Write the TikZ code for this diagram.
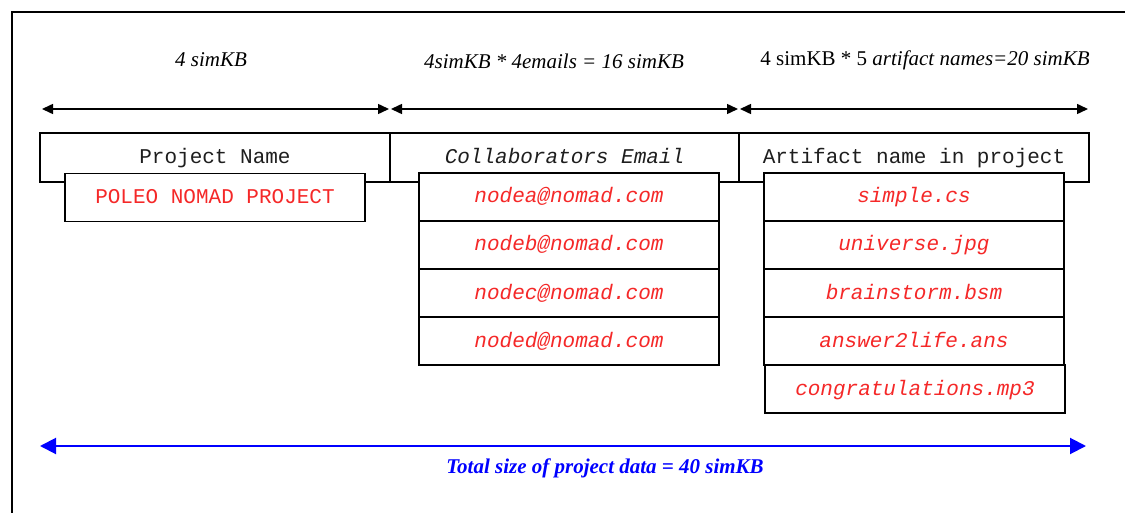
\documentclass[tikz,border=0pt]{standalone}
\usepackage{fontspec}
\setmainfont{Liberation Serif}
\setmonofont{Liberation Mono}
\usetikzlibrary{arrows.meta}
\definecolor{valred}{RGB}{245,40,40}
\definecolor{hdrgray}{RGB}{30,30,30}
\begin{document}
\begin{tikzpicture}[x=1pt,y=-1pt,
  txt/.style={font=\fontsize{21}{25}\selectfont, inner sep=0pt},
  cell/.style={draw, line width=1.8pt, fill=white, inner sep=0pt, outer sep=0pt,
    text height=15pt, text depth=3pt, minimum height=48pt,
    font=\ttfamily\fontsize{21}{25}\selectfont},
  header/.style={cell, minimum width=350pt, minimum height=49pt, text=hdrgray},
  value/.style={cell, minimum width=300pt, text=valred},
  dim/.style={line width=1.5pt, {Triangle[length=11pt,width=10pt]}-{Triangle[length=11pt,width=10pt]}},
  total/.style={line width=2pt, draw=blue, {Triangle[length=16pt,width=16pt]}-{Triangle[length=16pt,width=16pt]}}]
\useasboundingbox (0,0) rectangle (1125,513);

% frame
\draw[line width=1.8pt] (12,513) -- (12,12) -- (1125,12);

% size captions
\node[txt] (cap1) at (211,60) {\itshape 4 simKB};
\node[txt] (cap2) at (554,61) {\itshape 4simKB * 4emails = 16 simKB};
\node[txt] (cap3) at (925,60) {4 simKB * 5 \textit{artifact names=20 simKB}};

% dimension arrows
\coordinate (d1L) at (42,109);
\coordinate (d1R) at (389,109);
\coordinate (d2L) at (391,109);
\coordinate (d2R) at (738,109);
\coordinate (d3L) at (740,109);
\coordinate (d3R) at (1088,109);
\draw[dim] (d1L) -- (d1R);
\draw[dim] (d2L) -- (d2R);
\draw[dim] (d3L) -- (d3R);

% column headers
\node[header] (hName) at (215,157.5) {Project Name};
\node[header, minimum width=349pt] (hMail) at (564.5,157.5) {\itshape Collaborators Email};
\node[header] (hArt) at (914,157.5) {Artifact name in project};

% project name
\node[value] (pname) at (215,197.5) {POLEO NOMAD PROJECT};

% collaborator emails
\node[value] (mail1) at (569,197) {\itshape nodea@nomad.com};
\node[value] (mail2) at (569,245) {\itshape nodeb@nomad.com};
\node[value] (mail3) at (569,293) {\itshape nodec@nomad.com};
\node[value] (mail4) at (569,341) {\itshape noded@nomad.com};

% artifact names
\node[value] (art1) at (914,197) {\itshape simple.cs};
\node[value] (art2) at (914,245) {\itshape universe.jpg};
\node[value] (art3) at (914,293) {\itshape brainstorm.bsm};
\node[value] (art4) at (914,341) {\itshape answer2life.ans};
\node[value] (art5) at (915,389) {\itshape congratulations.mp3};

% total size
\coordinate (tL) at (40,446);
\coordinate (tR) at (1086,446);
\draw[total] (tL) -- (tR);
\node[txt, text=blue] (totcap) at (605,468) {\bfseries\itshape Total size of project data = 40 simKB};
\end{tikzpicture}
\end{document}
